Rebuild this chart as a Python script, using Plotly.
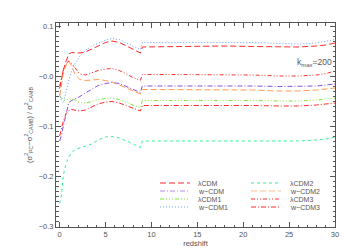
import plotly.graph_objects as go

z = [0, 0.2, 0.4, 0.7, 1.0, 1.3, 1.7, 2.2, 2.8, 3.5, 4.2, 5.0, 5.7, 6.5, 7.3, 8.1, 8.8,
     9.0, 12, 15, 18, 21, 24, 26, 28, 29, 30]

lcdm = [-0.025, -0.005, 0.012, 0.03, 0.044, 0.047, 0.047, 0.046, 0.048, 0.054, 0.061, 0.067, 0.07,
        0.067, 0.06, 0.053, 0.046, 0.058, 0.059, 0.06, 0.06, 0.059, 0.058, 0.058, 0.06, 0.062, 0.066]
wcdm = [-0.13, -0.118, -0.1, -0.075, -0.053, -0.049, -0.046, -0.041, -0.034, -0.026, -0.019, -0.015,
        -0.013, -0.015, -0.021, -0.027, -0.033, -0.02, -0.02, -0.019, -0.019, -0.02, -0.021, -0.021,
        -0.02, -0.018, -0.016]
lcdm1 = [-0.04, -0.045, -0.048, -0.048, -0.046, -0.046, -0.048, -0.053, -0.054, -0.051, -0.047, -0.045,
         -0.044, -0.047, -0.053, -0.059, -0.064, -0.049, -0.049, -0.048, -0.048, -0.049, -0.05, -0.05,
         -0.048, -0.046, -0.044]
wcdm1 = [-0.035, -0.05, -0.054, -0.03, -0.008, 0.01, 0.026, 0.04, 0.051, 0.06, 0.066, 0.072, 0.075,
         0.073, 0.066, 0.059, 0.053, 0.067, 0.067, 0.068, 0.068, 0.067, 0.065, 0.064, 0.066, 0.069, 0.073]
lcdm2 = [-0.255, -0.238, -0.198, -0.175, -0.162, -0.153, -0.147, -0.144, -0.141, -0.136, -0.128, -0.122,
         -0.121, -0.124, -0.13, -0.137, -0.143, -0.13, -0.13, -0.129, -0.129, -0.13, -0.13, -0.13,
         -0.128, -0.126, -0.122]
wcdm2 = [-0.04, -0.015, 0.005, 0.022, 0.03, 0.02, 0.002, -0.007, -0.009, -0.008, -0.007, -0.009,
         -0.012, -0.018, -0.024, -0.03, -0.036, -0.027, -0.027, -0.027, -0.027, -0.028, -0.03, -0.03,
         -0.028, -0.026, -0.024]
lcdm3 = [-0.02, 0.0, 0.012, 0.025, 0.03, 0.025, 0.015, 0.004, 0.002, 0.006, 0.011, 0.014, 0.015,
         0.011, 0.003, -0.004, -0.009, 0.003, 0.003, 0.003, 0.003, 0.002, 0.0, 0.0, 0.002, 0.005, 0.01]
wcdm3 = [-0.12, -0.105, -0.09, -0.075, -0.069, -0.067, -0.068, -0.07, -0.068, -0.062, -0.056, -0.052,
         -0.051, -0.054, -0.06, -0.065, -0.07, -0.059, -0.059, -0.058, -0.058, -0.059, -0.06, -0.06,
         -0.058, -0.056, -0.054]

names = ["λCDM", "w−CDM", "λCDM1", "w−CDM1", "λCDM2", "w−CDM2", "λCDM3", "w−CDM3"]
series = [lcdm, wcdm, lcdm1, wcdm1, lcdm2, wcdm2, lcdm3, wcdm3]
colors = ["#ff2a2a", "#8a4fe0", "#7ee83a", "#6f9bff", "#33ee99", "#ff9a55", "#ff3030", "#ff2a2a"]
legend_colors = ["#ff2a2a", "#b48ae8", "#7ee83a", "#6f9bff", "#33ee99", "#ffb98a", "#ff3030", "#ff2a2a"]
dashes = ["6px,3px", "5px,2px,1px,2px", "4px,2px,1px,2px,1px,2px,1px,2px", "1px,2px",
          "3px,3px", "6px,3px", "4px,2px,1px,2px,1px,2px", "5px,2px,1px,2px"]

yticks = [0.1, 0.0, -0.1, -0.2, -0.3]
yticktext = ["0.1", "−0.0", "−0.1", "−0.2", "−0.3"]
xticks = [0, 5, 10, 15, 20, 25, 30]

fig = go.Figure()
for n, s, c, d in zip(names, series, colors, dashes):
    fig.add_trace(go.Scatter(x=z, y=s, mode="lines", name=n,
                             line=dict(color=c, width=1, dash=d), showlegend=False))

W, H = 350, 250
ML, MR, MT, MB = 48, 23, 15, 31
pw, ph = W - ML - MR, H - MT - MB


def px(xp):
    return (xp - ML) / pw


def py(yp):
    return 1 - (yp - MT) / ph


FAM = "Liberation Sans, Arial, sans-serif"
font = dict(family=FAM, size=7, color="#555555")
tickfont = dict(family=FAM, size=7.5, color="#555555")
shapes = []
annotations = []
cols = [(152, 182, 188), (243, 273, 280)]
rows = [175, 183, 191, 199]
for i in range(8):
    col = cols[i // 4]
    row = rows[i % 4]
    shapes.append(dict(type="line", xref="paper", yref="paper",
                       x0=px(col[0]), x1=px(col[1]), y0=py(row), y1=py(row),
                       line=dict(color=legend_colors[i], width=1.2, dash=dashes[i])))
    annotations.append(dict(xref="paper", yref="paper", x=px(col[2]), y=py(row),
                            text=names[i], showarrow=False, xanchor="left", yanchor="middle",
                            font=font))

annotations.append(dict(xref="paper", yref="paper", x=px(326), y=py(54),
                        text="k<sub>max</sub>=200", showarrow=False, xanchor="right",
                        yanchor="middle", font=dict(family=FAM, size=8.5, color="#555555")))

axis_common = dict(showline=True, linecolor="#555555", linewidth=1, mirror="ticks",
                   ticks="inside", tickcolor="#555555", ticklen=5, tickwidth=1,
                   showgrid=False, zeroline=False, tickfont=tickfont)

fig.update_layout(
    width=W, height=H,
    margin=dict(l=ML, r=MR, t=MT, b=MB),
    paper_bgcolor="white", plot_bgcolor="white",
    showlegend=False,
    shapes=shapes, annotations=annotations,
    xaxis=dict(range=[-0.4, 30.0], tickvals=xticks,
               minor=dict(dtick=1, ticks="inside", ticklen=2.5, tickcolor="#555555"),
               title=dict(text="redshift", font=dict(family=FAM, size=7.5, color="#555555"),
                          standoff=0), **axis_common),
    yaxis=dict(range=[-0.302, 0.106], tickvals=yticks, ticktext=yticktext,
               minor=dict(dtick=0.01, ticks="inside", ticklen=2.5, tickcolor="#555555"),
               title=dict(text="(σ<sup>2</sup><sub>PC</sub>−σ<sup>2</sup><sub>CAMB</sub>) / σ<sup>2</sup><sub>CAMB</sub>",
                          font=dict(family=FAM, size=7.5, color="#555555"), standoff=5), **axis_common),
)

fig.write_html("out.html")
